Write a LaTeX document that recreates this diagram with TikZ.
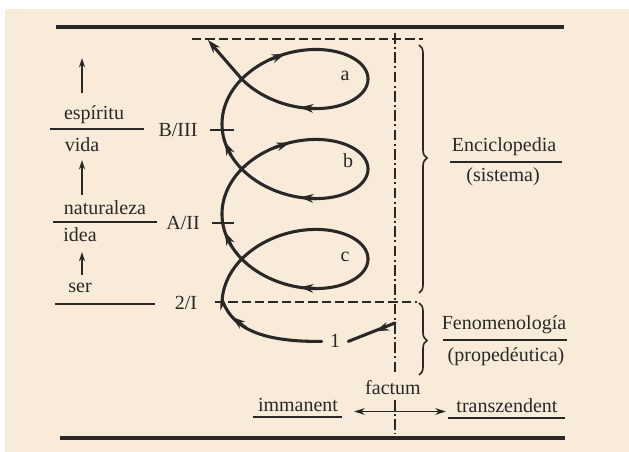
\documentclass[tikz,border=0pt]{standalone}
\usepackage{fontspec}
\setmainfont{Liberation Serif}
\usetikzlibrary{arrows.meta,decorations.pathreplacing,decorations.markings}
\definecolor{paper}{RGB}{248,235,217}
\definecolor{ink}{RGB}{42,40,38}
\begin{document}
\begin{tikzpicture}[x=0.75pt,y=-0.75pt,
  declare function={cx(\t)=295-73*cos(deg(\t)); cy(\t)=214-14.32*\t-50*sin(deg(\t));},
  lbl/.style={font=\fontsize{15}{18}\selectfont, text=ink, inner sep=0pt, anchor=base},
  heavyrule/.style={draw=ink, line width=2.6pt},
  underl/.style={draw=ink, line width=2.1pt},
  loopline/.style={draw=ink, line width=2.3pt, line cap=round},
  headtip/.style={-{Stealth[length=10pt,width=6.5pt]}},
  uparrow/.style={draw=ink, line width=1.5pt, -{Stealth[length=7pt,width=4.5pt]}},
  twoarrow/.style={draw=ink, line width=1.4pt, {Stealth[length=8pt,width=5pt]}-{Stealth[length=8pt,width=5pt]}},
  dashline/.style={draw=ink, line width=2.1pt, dash pattern=on 7pt off 3pt},
  dashdotline/.style={draw=ink, line width=1.5pt, dash pattern=on 8pt off 2.5pt on 1.5pt off 2.5pt},
  tickmark/.style={draw=ink, line width=1.7pt},
  bracestyle/.style={draw=ink, line width=1.2pt, decorate},
]
\fill[white] (0,0) rectangle (629,452);
\fill[paper] (5,9) rectangle (629,452);
\useasboundingbox (0,0) rectangle (629,452);

% heavy rules
\coordinate (tl) at (56,27); \coordinate (tr) at (564,27);
\draw[heavyrule] (tl) -- (tr);
\coordinate (bl) at (60,438); \coordinate (br) at (565,438);
\draw[heavyrule] (bl) -- (br);

% dashed lines
\coordinate (d1a) at (192,39); \coordinate (d1b) at (423,39);
\draw[dashline] (d1a) -- (d1b);
\coordinate (d2a) at (215,302); \coordinate (d2b) at (417,302);
\draw[dashline] (d2a) -- (d2b);

% dash-dot vertical
\coordinate (v1) at (395,33); \coordinate (v2) at (395,372);
\draw[dashdotline] (v1) -- (v2);
\coordinate (v3) at (395,400); \coordinate (v4) at (395,434);
\draw[dashdotline] (v3) -- (v4);

% braces
\coordinate (b1t) at (419,45); \coordinate (b1b) at (419,293);
\draw[bracestyle, decoration={brace, amplitude=6pt, aspect=0.456}] (b1t) -- (b1b);
\coordinate (b2t) at (419,303); \coordinate (b2b) at (419,375);
\draw[bracestyle, decoration={brace, amplitude=6pt, aspect=0.52}] (b2t) -- (b2b);

% right labels
\node[lbl] (ency) at (504,152) {Enciclopedia};
\node[lbl] (sist) at (503,182) {(sistema)};
\coordinate (e1) at (450,162); \coordinate (e2) at (562,162);
\draw[underl] (e1) -- (e2);
\node[lbl] (feno) at (504,330) {Fenomenología};
\node[lbl] (prop) at (506,362) {(propedéutica)};
\coordinate (f1) at (443,340); \coordinate (f2) at (567,340);
\draw[underl] (f1) -- (f2);

% left column
\node[lbl] (esp) at (94,120) {espíritu};
\node[lbl] (vida) at (82,152) {vida};
\node[lbl] (nat) at (105,215) {naturaleza};
\node[lbl] (idea) at (80,242) {idea};
\node[lbl] (ser) at (80,293) {ser};
\node[lbl] (B) at (178,137) {B/III};
\node[lbl] (A) at (183,230) {A/II};
\node[lbl] (I) at (186,310) {2/I};
\coordinate (l1a) at (50,129); \coordinate (l1b) at (144,129);
\draw[underl] (l1a) -- (l1b);
\coordinate (l2a) at (53,222); \coordinate (l2b) at (157,222);
\draw[underl] (l2a) -- (l2b);
\coordinate (l3a) at (55,304); \coordinate (l3b) at (155,304);
\draw[underl] (l3a) -- (l3b);
\coordinate (u1a) at (82,93); \coordinate (u1b) at (82,58);
\draw[uparrow] (u1a) -- (u1b);
\coordinate (u2a) at (82,195); \coordinate (u2b) at (82,160);
\draw[uparrow] (u2a) -- (u2b);
\coordinate (u3a) at (82,275); \coordinate (u3b) at (82,252);
\draw[uparrow] (u3a) -- (u3b);

% ticks
\coordinate (t1a) at (210,130); \coordinate (t1b) at (234,130);
\draw[tickmark] (t1a) -- (t1b);
\coordinate (t2a) at (212,223); \coordinate (t2b) at (234,223);
\draw[tickmark] (t2a) -- (t2b);

% loop labels
\node[lbl] (la) at (345,81) {a};
\node[lbl] (lb) at (348,168) {b};
\node[lbl] (lc) at (345,262) {c};
\node[lbl, inner xsep=6pt] (one) at (335,348) {1};

% spiral
\coordinate (topend) at (208,40);
\draw[loopline, headtip] (one.west) .. controls (265,342) and (234,330) .. (223,302)
  -- plot[domain=-6.2832:11.813, samples=400, variable=\t] ({cx(\t)},{cy(\t)})
  .. controls (226,61) .. (topend);
\path (one.west) .. controls (265,342) and (234,330) .. (223,302)
  coordinate[pos=0.6] (q1) coordinate[pos=0.8] (q2);
\draw[loopline, headtip] (q1) -- (q2);
\foreach \ta in {1.5, 7.72, -1.639, 4.644, 10.927, -0.28, 6.003}
  \draw[loopline, headtip] ({cx(\ta-0.22)},{cy(\ta-0.22)}) -- ({cx(\ta)},{cy(\ta)});

% segment from factum line to 1
\coordinate (fs) at (395,323);
\draw[loopline, postaction={decorate}, decoration={markings, mark=at position 0.42 with {\arrow{Stealth[length=10pt,width=6.5pt]}}}] (fs) .. controls (372,333) .. (one.east);

% bottom
\node[lbl] (fact) at (393,395) {factum};
\node[lbl] (imm) at (298,412) {immanent};
\node[lbl] (trans) at (507,413) {transzendent};
\coordinate (i1) at (253,417); \coordinate (i2) at (342,417);
\draw[underl] (i1) -- (i2);
\coordinate (tz1) at (448,418); \coordinate (tz2) at (565,418);
\draw[underl] (tz1) -- (tz2);
\coordinate (al) at (354,411.5); \coordinate (ar) at (446,411.5);
\draw[twoarrow] (al) -- (ar);
\end{tikzpicture}
\end{document}
